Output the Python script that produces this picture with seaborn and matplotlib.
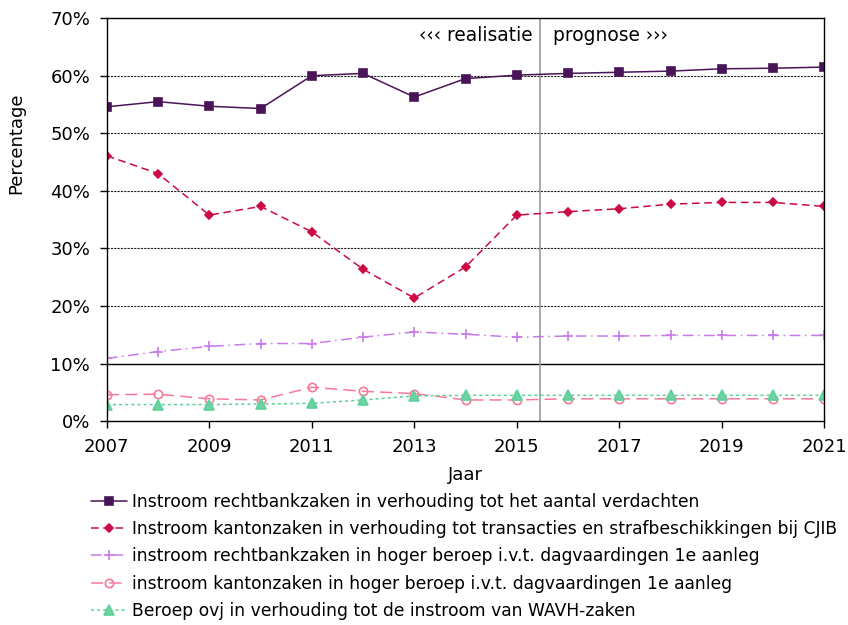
import matplotlib
matplotlib.use('Agg')
import matplotlib.pyplot as plt
import matplotlib.ticker as ticker
import pandas as pd
import seaborn as sns

YEARS = list(range(2007, 2022))

RECHTBANK = [54.6, 55.5, 54.7, 54.3, 60.0, 60.4, 56.3, 59.5, 60.1, 60.4, 60.6, 60.8, 61.2, 61.3, 61.5]
KANTON = [46.1, 43.0, 35.8, 37.3, 32.9, 26.4, 21.4, 26.8, 35.8, 36.4, 36.9, 37.7, 38.0, 38.0, 37.3]
HB_RECHTBANK = [10.9, 12.1, 13.0, 13.5, 13.5, 14.6, 15.5, 15.1, 14.6, 14.8, 14.8, 14.9, 14.9, 14.9, 14.9]
HB_KANTON = [4.6, 4.7, 3.9, 3.7, 5.9, 5.2, 4.8, 3.7, 3.7, 3.9, 3.9, 3.9, 3.9, 3.9, 3.9]
BEROEP_OVJ = [2.9, 2.9, 2.9, 3.0, 3.1, 3.7, 4.4, 4.5, 4.5, 4.5, 4.5, 4.5, 4.5, 4.5, 4.5]

LABELS = [
    'Instroom rechtbankzaken in verhouding tot het aantal verdachten',
    'Instroom kantonzaken in verhouding tot transacties en strafbeschikkingen bij CJIB',
    'instroom rechtbankzaken in hoger beroep i.v.t. dagvaardingen 1e aanleg',
    'instroom kantonzaken in hoger beroep i.v.t. dagvaardingen 1e aanleg',
    'Beroep ovj in verhouding tot de instroom van WAVH-zaken',
]
X_TICKS = [2007, 2009, 2011, 2013, 2015, 2017, 2019, 2021]
SPLIT_YEAR = 2015.45


def main():
    sns.set_theme(style='white')
    plt.rcParams['font.family'] = ['DejaVu Sans']
    plt.rcParams['text.color'] = 'black'
    plt.rcParams['axes.labelcolor'] = 'black'
    plt.rcParams['xtick.color'] = 'black'
    plt.rcParams['ytick.color'] = 'black'

    series = [RECHTBANK, KANTON, HB_RECHTBANK, HB_KANTON, BEROEP_OVJ]
    styles = [
        dict(color='#4a1458', marker='s', ls='-', ms=6, mfc='#4a1458'),
        dict(color='#cc0a44', marker='D', ls=(0, (5, 3)), ms=4.5, mfc='#cc0a44'),
        dict(color='#c77ae8', marker='+', ls=(0, (7, 3, 1, 3)), ms=7, mfc='#c77ae8'),
        dict(color='#f77a9a', marker='o', ls=(0, (8, 4)), ms=6, mfc='none'),
        dict(color='#5fd19a', marker='^', ls=(0, (2, 2)), ms=7, mfc='#6ed3a0'),
    ]

    fig = plt.figure(figsize=(8.48, 6.25), dpi=100)
    ax = fig.add_axes([0.126, 0.326, 0.846, 0.645])

    for values, label, st in zip(series, LABELS, styles):
        df = pd.DataFrame({'jaar': YEARS, 'pct': values})
        sns.lineplot(
            data=df, x='jaar', y='pct', ax=ax, label=label,
            color=st['color'], marker=st['marker'], linestyle=st['ls'],
            markersize=st['ms'], markerfacecolor=st['mfc'],
            markeredgecolor=st['color'], markeredgewidth=1.2, lw=1.1,
        )

    for y in range(20, 70, 10):
        ax.axhline(y, color='#222222', lw=0.8, ls=(0, (2, 1)), zorder=0)
    ax.axhline(10, color='black', lw=1.0, zorder=0)
    ax.axvline(SPLIT_YEAR, color='#999999', lw=1.2, zorder=1)

    ax.text(SPLIT_YEAR - 0.14, 67, '\u2039\u2039\u2039 realisatie', ha='right', va='center', fontsize=13.4)
    ax.text(SPLIT_YEAR + 0.25, 67, 'prognose \u203a\u203a\u203a', ha='left', va='center', fontsize=13.4)

    ax.set_xlim(2007, 2021)
    ax.set_ylim(0, 70)
    ax.xaxis.set_major_locator(ticker.FixedLocator(X_TICKS))
    ax.yaxis.set_major_locator(ticker.MultipleLocator(10))
    ax.yaxis.set_major_formatter(ticker.FuncFormatter(lambda v, p: f'{int(v)}%'))
    ax.tick_params(axis='both', which='major', labelsize=13, length=5, width=1, pad=7,
                   direction='out', bottom=True, left=True)
    ax.set_xlabel('Jaar', fontsize=13, labelpad=7)
    ax.set_ylabel('Percentage', fontsize=13)
    ax.yaxis.set_label_coords(-0.114, 0.69)
    for sp in ax.spines.values():
        sp.set_color('black')
        sp.set_linewidth(1)

    ax.legend(loc='upper left', bbox_to_anchor=(-0.031, -0.16), frameon=False,
              fontsize=12.3, handlelength=2.1, handletextpad=0.3, labelspacing=0.55,
              borderaxespad=0)

    fig.savefig('out.png', dpi=100)
    plt.close(fig)


if __name__ == '__main__':
    main()
